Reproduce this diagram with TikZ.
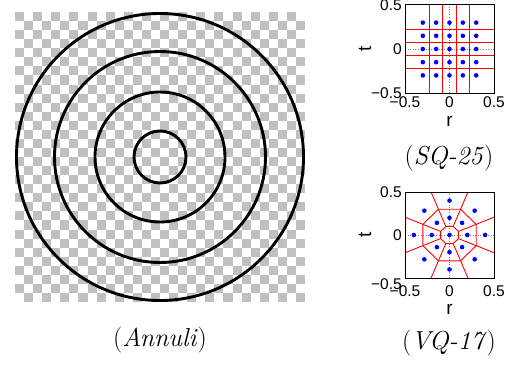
\documentclass[tikz,border=0pt]{standalone}
\usepackage{fontspec}
\newfontfamily\plotfont{Liberation Sans}
\definecolor{checkgray}{RGB}{192,192,192}
\definecolor{dotblue}{RGB}{0,0,255}
\definecolor{cellred}{RGB}{255,0,0}
\tikzset{
  ringline/.style={line width=2.9pt, black},
  boxframe/.style={line width=1pt, black},
  zeroaxis/.style={gray, dotted, line width=0.6pt},
  cellline/.style={cellred, line width=0.9pt},
  pt/.style={circle, fill=dotblue, inner sep=0pt, minimum size=4.6pt},
  ticklab/.style={font=\plotfont\fontsize{15.5}{15.5}\selectfont, inner sep=0pt},
  axlab/.style={font=\plotfont\fontsize{19}{19}\selectfont, inner sep=0pt},
  caplab/.style={font=\fontsize{26}{26}\selectfont, inner sep=0pt}
}
\begin{document}
\begin{tikzpicture}[x=1pt,y=1pt]
\useasboundingbox (0,0) rectangle (516,365);
% ---------- checkerboard with annuli ----------
\begin{scope}[shift={(15,63)}]
  \foreach \i in {0,...,31}{
    \foreach \j in {0,...,31}{
      \pgfmathtruncatemacro{\parity}{mod(\i+\j,2)}
      \ifnum\parity=0
        \fill[checkgray] ({\i*290/32},{290-(\j+1)*290/32}) rectangle ({(\i+1)*290/32},{290-\j*290/32});
      \fi
    }
  }
\end{scope}
\coordinate (ctr) at (160,208);
\draw[ringline] (ctr) circle[radius=143.5];
\draw[ringline] (ctr) circle[radius=105.5];
\draw[ringline] (ctr) circle[radius=65];
\draw[ringline] (ctr) circle[radius=26];
\node[caplab] (capA) at (160,25) {(\textit{Annuli})};
% ---------- SQ-25 ----------
\begin{scope}[shift={(449.5,316)}, x=89pt, y=88pt]
  \draw[zeroaxis] (0,-0.5) -- (0,0.5);
  \draw[zeroaxis] (-0.5,0) -- (0.5,0);
  \foreach \v in {-0.225,-0.075,0.075,0.225}{
    \draw[cellline] (\v,-0.5) -- (\v,0.5);
    \draw[cellline] (-0.5,\v) -- (0.5,\v);
  }
  \foreach \a in {-0.3,-0.15,0,0.15,0.3}{
    \foreach \b in {-0.3,-0.15,0,0.15,0.3}{
      \node[pt] at (\a,\b) {};
    }
  }
  \draw[boxframe] (-0.5,-0.5) rectangle (0.5,0.5);
  \node[ticklab, anchor=east] (sqy1) at (-0.535,0.5) {0.5};
  \node[ticklab, anchor=east] (sqy2) at (-0.535,0) {0};
  \node[ticklab, anchor=east] (sqy3) at (-0.535,-0.5) {−0.5};
  \node[ticklab] (sqx1) at (-0.5,-0.6) {−0.5};
  \node[ticklab] (sqx2) at (0,-0.6) {0};
  \node[ticklab] (sqx3) at (0.5,-0.6) {0.5};
  \node[axlab] (sqr) at (0,-0.82) {r};
  \node[axlab, rotate=90] (sqt) at (-0.95,0) {t};
\end{scope}
\node[caplab] (capSQ) at (449,207) {(\textit{SQ-25})};
% ---------- VQ-17 ----------
\begin{scope}[shift={(449.5,130)}, x=89pt, y=86pt]
  \draw[zeroaxis] (0,-0.5) -- (0,0.5);
  \draw[zeroaxis] (-0.5,0) -- (0.5,0);
  \begin{scope}
    \clip (-0.5,-0.5) rectangle (0.5,0.5);
    \draw[cellline] (22.5:0.10824) \foreach \k in {1,...,7}{ -- ({22.5+45*\k}:0.10824)} -- cycle;
    \draw[cellline] (22.5:0.32472) \foreach \k in {1,...,7}{ -- ({22.5+45*\k}:0.32472)} -- cycle;
    \foreach \k in {0,...,7}{
      \draw[cellline] ({22.5+45*\k}:0.10824) -- ({22.5+45*\k}:1.2);
    }
  \end{scope}
  \node[pt] at (0,0) {};
  \foreach \k in {0,...,7}{
    \node[pt] at ({45*\k}:0.2) {};
    \node[pt] at ({45*\k}:0.4) {};
  }
  \draw[boxframe] (-0.5,-0.5) rectangle (0.5,0.5);
  \node[ticklab, anchor=east] (vqy1) at (-0.535,0.5) {0.5};
  \node[ticklab, anchor=east] (vqy2) at (-0.535,0) {0};
  \node[ticklab, anchor=east] (vqy3) at (-0.535,-0.57) {−0.5};
  \node[ticklab] (vqx1) at (-0.5,-0.65) {−0.5};
  \node[ticklab] (vqx2) at (0,-0.65) {0};
  \node[ticklab] (vqx3) at (0.5,-0.65) {0.5};
  \node[axlab] (vqr) at (0,-0.86) {r};
  \node[axlab, rotate=90] (vqt) at (-0.95,0) {t};
\end{scope}
\node[caplab] (capVQ) at (449,22) {(\textit{VQ-17})};
\end{tikzpicture}
\end{document}
